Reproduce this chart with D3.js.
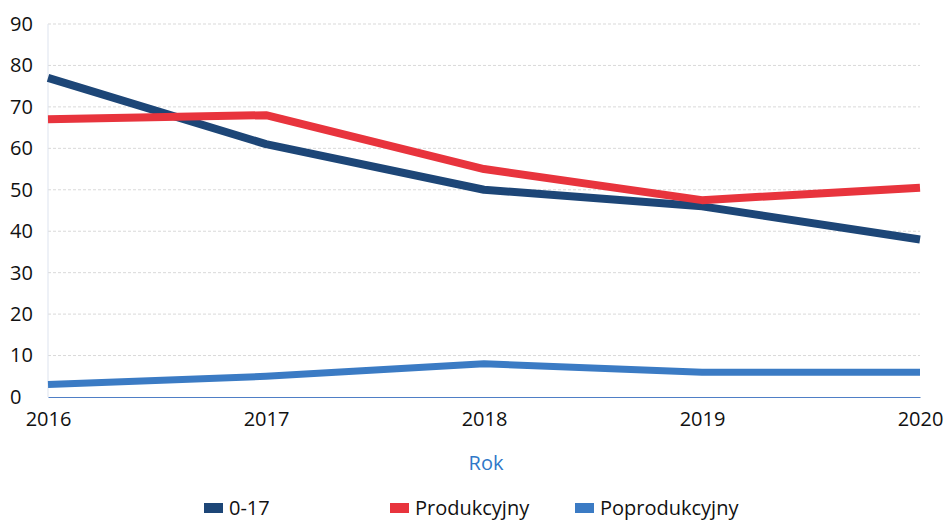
<!DOCTYPE html>
<html>
<head>
<meta charset="utf-8">
<script src="https://cdn.jsdelivr.net/npm/d3@7"></script>
<style>
  body { margin: 0; background: #fff; }
  svg text { font-family: "Open Sans", sans-serif; fill: #111; }
</style>
</head>
<body>
<div id="chart"></div>
<script>
// Data
var years = [2016, 2017, 2018, 2019, 2020];
var kids = [77, 61, 50, 46, 38];
var prod = [67, 68, 55, 47.5, 50.5];
var poprod = [3, 5, 8, 6, 6];
var yTicks = [0, 10, 20, 30, 40, 50, 60, 70, 80, 90];

var seriesNames = ['0-17', 'Produkcyjny', 'Poprodukcyjny'];
var seriesColors = ['#1d4677', '#e8343d', '#3b7bc4'];
var seriesValues = [kids, prod, poprod];

var svgWidth = 945;
var svgHeight = 520;
var margin = { top: 24, right: 25, bottom: 123, left: 48 };
var width = svgWidth - margin.left - margin.right;
var height = svgHeight - margin.top - margin.bottom;

var svg = d3.select('#chart')
  .append('svg')
  .attr('width', svgWidth)
  .attr('height', svgHeight);

var chartGroup = svg.append('g')
  .attr('transform', `translate(${margin.left}, ${margin.top})`);

var x = d3.scaleLinear().domain([2016, 2020]).range([0, width]);
var y = d3.scaleLinear().domain([0, 90]).range([height, 0]);

// gridlines
chartGroup.append('g')
  .selectAll('line')
  .data(yTicks.slice(1))
  .enter()
  .append('line')
  .attr('x1', 0)
  .attr('x2', width)
  .attr('y1', d => y(d))
  .attr('y2', d => y(d))
  .attr('stroke', '#d9d9d9')
  .attr('stroke-width', 1)
  .attr('stroke-dasharray', '3,2');

// left axis line (faint)
chartGroup.append('line')
  .attr('x1', 0).attr('x2', 0)
  .attr('y1', 0).attr('y2', height)
  .attr('stroke', '#dde3ee');

// y axis labels
var yAxis = chartGroup.append('g')
  .call(d3.axisLeft(y).tickValues(yTicks).tickSize(0).tickPadding(14));
yAxis.select('.domain').remove();
yAxis.selectAll('text')
  .attr('font-size', '20px')
  .attr('font-family', '"Open Sans", sans-serif')
  .attr('fill', '#111')
  .attr('text-anchor', 'start')
  .attr('x', -38);

// lines
var line = d3.line()
  .x((d, i) => x(years[i]))
  .y(d => y(d));

seriesValues.forEach(function(vals, k) {
  chartGroup.append('path')
    .datum(vals)
    .attr('fill', 'none')
    .attr('stroke', seriesColors[k])
    .attr('stroke-width', k === 2 ? 7 : 8)
    .attr('stroke-linejoin', 'round')
    .attr('d', line);
});

// x axis
var xAxis = chartGroup.append('g')
  .attr('transform', `translate(0, ${height})`)
  .call(d3.axisBottom(x).tickValues(years).tickFormat(d3.format('d')).tickSize(0).tickPadding(15));
xAxis.select('.domain').attr('stroke', '#4f7fc6').attr('stroke-width', 1.2);
xAxis.selectAll('text')
  .attr('font-size', '20px')
  .attr('font-family', '"Open Sans", sans-serif')
  .attr('fill', '#111');

// axis title
svg.append('text')
  .attr('x', margin.left + width / 2 + 2)
  .attr('y', 470)
  .attr('text-anchor', 'middle')
  .attr('font-size', '20px')
  .style('fill', '#2f78c8')
  .text('Rok');

// legend
var legendX = [204, 390, 575];
var legend = svg.append('g');
seriesNames.forEach(function(name, k) {
  legend.append('rect')
    .attr('x', legendX[k])
    .attr('y', 503)
    .attr('width', 19)
    .attr('height', 10)
    .attr('fill', seriesColors[k]);
  legend.append('text')
    .attr('x', legendX[k] + 25)
    .attr('y', 515)
    .attr('font-size', '20px')
    .text(name);
});
</script>
</body>
</html>
